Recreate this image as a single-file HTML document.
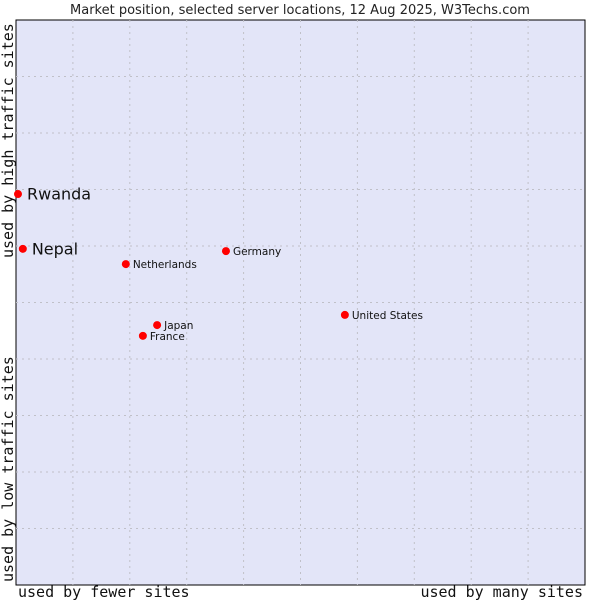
<!DOCTYPE html>
<html><head><meta charset="utf-8"><style>
body{margin:0;background:#fff;}
svg{display:block;font-family:"DejaVu Sans","Liberation Sans",sans-serif;}
</style></head><body>
<svg id="chart" width="600" height="600" viewBox="0 0 600 600">
<text x="300" y="14" text-anchor="middle" font-size="13" fill="#222">Market position, selected server locations, 12 Aug 2025, W3Techs.com</text>
<rect x="16" y="20" width="569" height="565" fill="#e3e5f8" stroke="#000" stroke-width="1"/>
<g id="grid"></g>
<g id="points"></g>
<text x="18" y="597" font-family="DejaVu Sans Mono,Liberation Mono,monospace" font-size="15" fill="#111">used by fewer sites</text>
<text x="583" y="597" text-anchor="end" font-family="DejaVu Sans Mono,Liberation Mono,monospace" font-size="15" fill="#111">used by many sites</text>
<text transform="translate(13,582) rotate(-90)" font-family="DejaVu Sans Mono,Liberation Mono,monospace" font-size="15" fill="#111">used by low traffic sites</text>
<text transform="translate(13,258) rotate(-90)" font-family="DejaVu Sans Mono,Liberation Mono,monospace" font-size="15" fill="#111">used by high traffic sites</text>
</svg>
<script>
const names=["Rwanda","Nepal","Netherlands","Germany","United States","Japan","France"];
const xValues=[0.35,1.2,19.3,36.9,57.8,24.8,22.3];
const yValues=[69.2,59.5,56.8,59.1,47.8,46.0,44.1];
const bigLabel=[true,true,false,false,false,false,false];
const L=16,R=585,T=20,B=585;
const sx=v=>L+v/100*(R-L), sy=v=>B-v/100*(B-T);
const ns="http://www.w3.org/2000/svg";
const grid=document.getElementById('grid');
for(let i=1;i<10;i++){
 const v=i*10;
 const a=document.createElementNS(ns,'line');
 
 
 a.setAttribute('x1',sx(v));a.setAttribute('x2',sx(v));a.setAttribute('y1',T);a.setAttribute('y2',B);
 a.setAttribute('stroke','#c0c0c8');a.setAttribute('stroke-dasharray','2,4');
 grid.appendChild(a);
 const b=document.createElementNS(ns,'line');
 
 
 b.setAttribute('y1',sy(v));b.setAttribute('y2',sy(v));b.setAttribute('x1',L);b.setAttribute('x2',R);
 b.setAttribute('stroke','#c0c0c8');b.setAttribute('stroke-dasharray','2,4');
 grid.appendChild(b);
}
const pts=document.getElementById('points');
names.forEach((n,i)=>{
 const x=sx(xValues[i]),y=sy(yValues[i]);
 const d=document.createElementNS(ns,'circle');
 
 
 d.setAttribute('cx',x);d.setAttribute('cy',y);d.setAttribute('r','4');
 d.setAttribute('fill','#f00');
 pts.appendChild(d);
 const t=document.createElementNS(ns,'text');
 
 
 t.setAttribute('x',x+(bigLabel[i]?9:7));t.setAttribute('y',y+(bigLabel[i]?5.5:4));
 t.setAttribute('font-size',bigLabel[i]?'16':'10.5');t.setAttribute('fill','#111');
 t.textContent=n;
 pts.appendChild(t);
});
</script>
</body></html>
